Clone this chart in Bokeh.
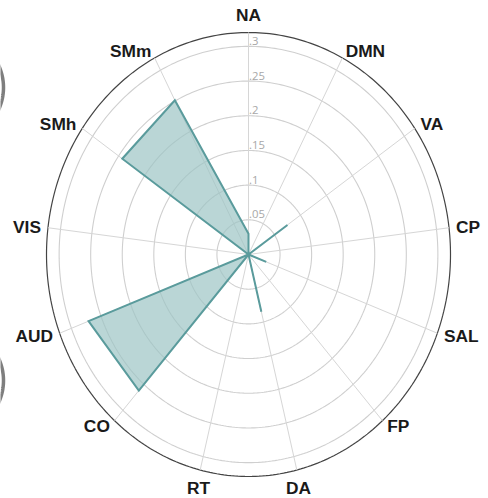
import numpy as np
from bokeh.plotting import figure
from bokeh.models import Range1d
from bokeh.core.properties import value
from bokeh.embed import file_html
from bokeh.resources import INLINE

# Network categories, clockwise from the top
categories = ["NA", "DMN", "VA", "CP", "SAL", "FP", "DA", "RT", "CO", "AUD", "VIS", "SMh", "SMm"]
scores = [0.030, 0.0, 0.075, 0.0, 0.030, 0.0, 0.085, 0.0, 0.262, 0.271, 0.0, 0.243, 0.251]

ring_values = [0.05, 0.10, 0.15, 0.20, 0.25, 0.30]
ring_labels = [".05", ".1", ".15", ".2", ".25", ".3"]
r_max = 0.32

# Canvas layout (pixels)
W, H = 488, 498
cx_px, cy_px = 248, 254          # centre, measured from the top-left corner
rx_px, ry_px = 202, 222          # pixel size of the outer ring (x, y)
sx = rx_px / r_max
sy = ry_px / r_max

p = figure(width=W, height=H, output_backend="svg", toolbar_location=None,
           min_border=0, outline_line_color=None,
           x_range=Range1d(-cx_px / sx, (W - cx_px) / sx),
           y_range=Range1d(-(H - cy_px) / sy, cy_px / sy))
p.axis.visible = False
p.grid.visible = False
p.background_fill_color = "white"
p.border_fill_color = "white"


def px_to_data(xp, yp):
    return (np.asarray(xp) - cx_px) / sx, (cy_px - np.asarray(yp)) / sy


# Edges of neighbouring panels peeking in at the left border
for yc in (87, 380):
    a = np.linspace(-0.85, 0.85, 60)
    ex, ey = px_to_data(-50 + 53 * np.cos(a), yc - 53 * np.sin(a))
    p.line(ex, ey, line_color="#5e5e5e", line_width=3.5, line_alpha=0.8)

n = len(categories)
theta = np.arange(n) * 2 * np.pi / n      # clockwise from 12 o'clock

# Concentric rings
t = np.linspace(0, 2 * np.pi, 361)
for rv in ring_values:
    p.line(rv * np.sin(t), rv * np.cos(t), line_color="#cfcfcf", line_width=1.1)
p.line(r_max * np.sin(t), r_max * np.cos(t), line_color="#444444", line_width=1.2)

# Spokes
for th in theta:
    p.line([0, r_max * np.sin(th)], [0, r_max * np.cos(th)],
           line_color="#d6d6d6", line_width=1)

# Ring value labels along the top spoke
p.text(x=[0.0008] * len(ring_values), y=[rv + 0.002 for rv in ring_values], text=ring_labels,
       text_font=value("Open Sans"), text_font_size="8.5pt", text_color="#a8a8a8",
       text_align="left", text_baseline="bottom")

# Score polygon
vals = np.array(scores)
px = np.append(vals * np.sin(theta), vals[0] * np.sin(theta[0]))
py = np.append(vals * np.cos(theta), vals[0] * np.cos(theta[0]))
p.patch(px, py, fill_color="#9cc4c5", fill_alpha=0.7,
        line_color="#5a9b9c", line_width=2, line_join="miter")

# Category labels just outside the outer ring, aligned away from the centre
lab_r = r_max * 1.035
for name, th in zip(categories, theta):
    s, c = np.sin(th), np.cos(th)
    align = "left" if s > 0.3 else ("right" if s < -0.3 else "center")
    base = "bottom" if c > 0.95 else ("top" if c < -0.95 else "middle")
    p.text(x=[lab_r * s], y=[lab_r * c], text=[name],
           text_font=value("Liberation Sans"), text_font_style="bold", text_font_size="13pt",
           text_color="#1a1a1a", text_align=align, text_baseline=base)

open("out.html", "w").write(file_html(p, INLINE))
